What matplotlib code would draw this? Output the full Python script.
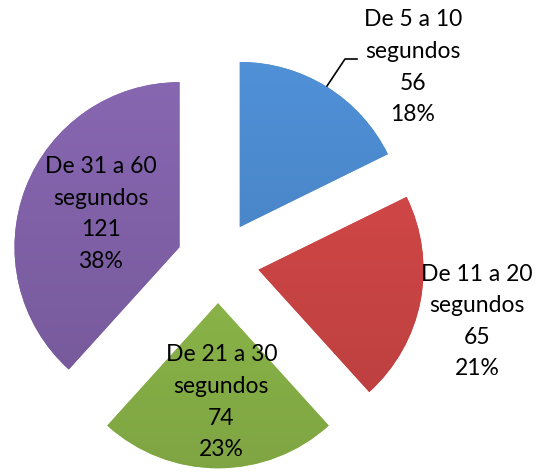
import numpy as np
import matplotlib.pyplot as plt
import matplotlib.colors as mcolors

labels = ["De 5 a 10\nsegundos", "De 11 a 20\nsegundos", "De 21 a 30\nsegundos", "De 31 a 60\nsegundos"]
values = [56, 65, 74, 121]
colors = ["#4A86C8", "#CC4545", "#8DB84A", "#7F60A6"]
# label centers, in pie units relative to the pie center
label_pos = [(1.18, 1.18), (1.57, -0.36), (0.02, -0.85), (-0.71, 0.29)]

plt.rcParams['font.family'] = ['Lato', 'DejaVu Sans']

fig = plt.figure(figsize=(5.37, 4.74), dpi=100)
ax = fig.add_axes([0, 0, 1, 1])

wedges, _ = ax.pie(values, colors=colors, startangle=90, counterclock=False,
                   explode=[0.25] * len(values), radius=1.0, frame=True,
                   wedgeprops=dict(linewidth=0))
ax.set_xlim(-218 / 165, (537 - 218) / 165)
ax.set_ylim(-212 / 165, 262 / 165)
ax.axis("off")

# soft vertical shading inside each wedge (lighter on top)
for w, c in zip(wedges, colors):
    base = np.array(mcolors.to_rgb(c))
    light = np.clip(base * 1.12, 0, 1)
    dark = base * 0.88
    t = np.linspace(0, 1, 256)[:, None]
    grad = light * (1 - t[..., None]) + dark * t[..., None]
    grad = np.repeat(grad, 2, axis=1)
    im = ax.imshow(grad, extent=[-1.5, 2.2, -1.5, 1.8], origin="upper",
                   aspect="auto", zorder=w.get_zorder() + 0.1)
    im.set_clip_path(w)

total = sum(values)
for lab, v, (x, y) in zip(labels, values, label_pos):
    ax.text(x, y, f"{lab}\n{v}\n{round(100 * v / total)}%", ha="center", va="center",
            fontsize=16.5, linespacing=1.62, color="black", zorder=10)

# leader line for the first label
ax.plot([(327 - 218) / 165, (345 - 218) / 165, (357 - 218) / 165],
        [(262 - 86) / 165, (262 - 59) / 165, (262 - 59) / 165],
        color="black", lw=1.2, zorder=10)

fig.savefig("out.png", dpi=100)
